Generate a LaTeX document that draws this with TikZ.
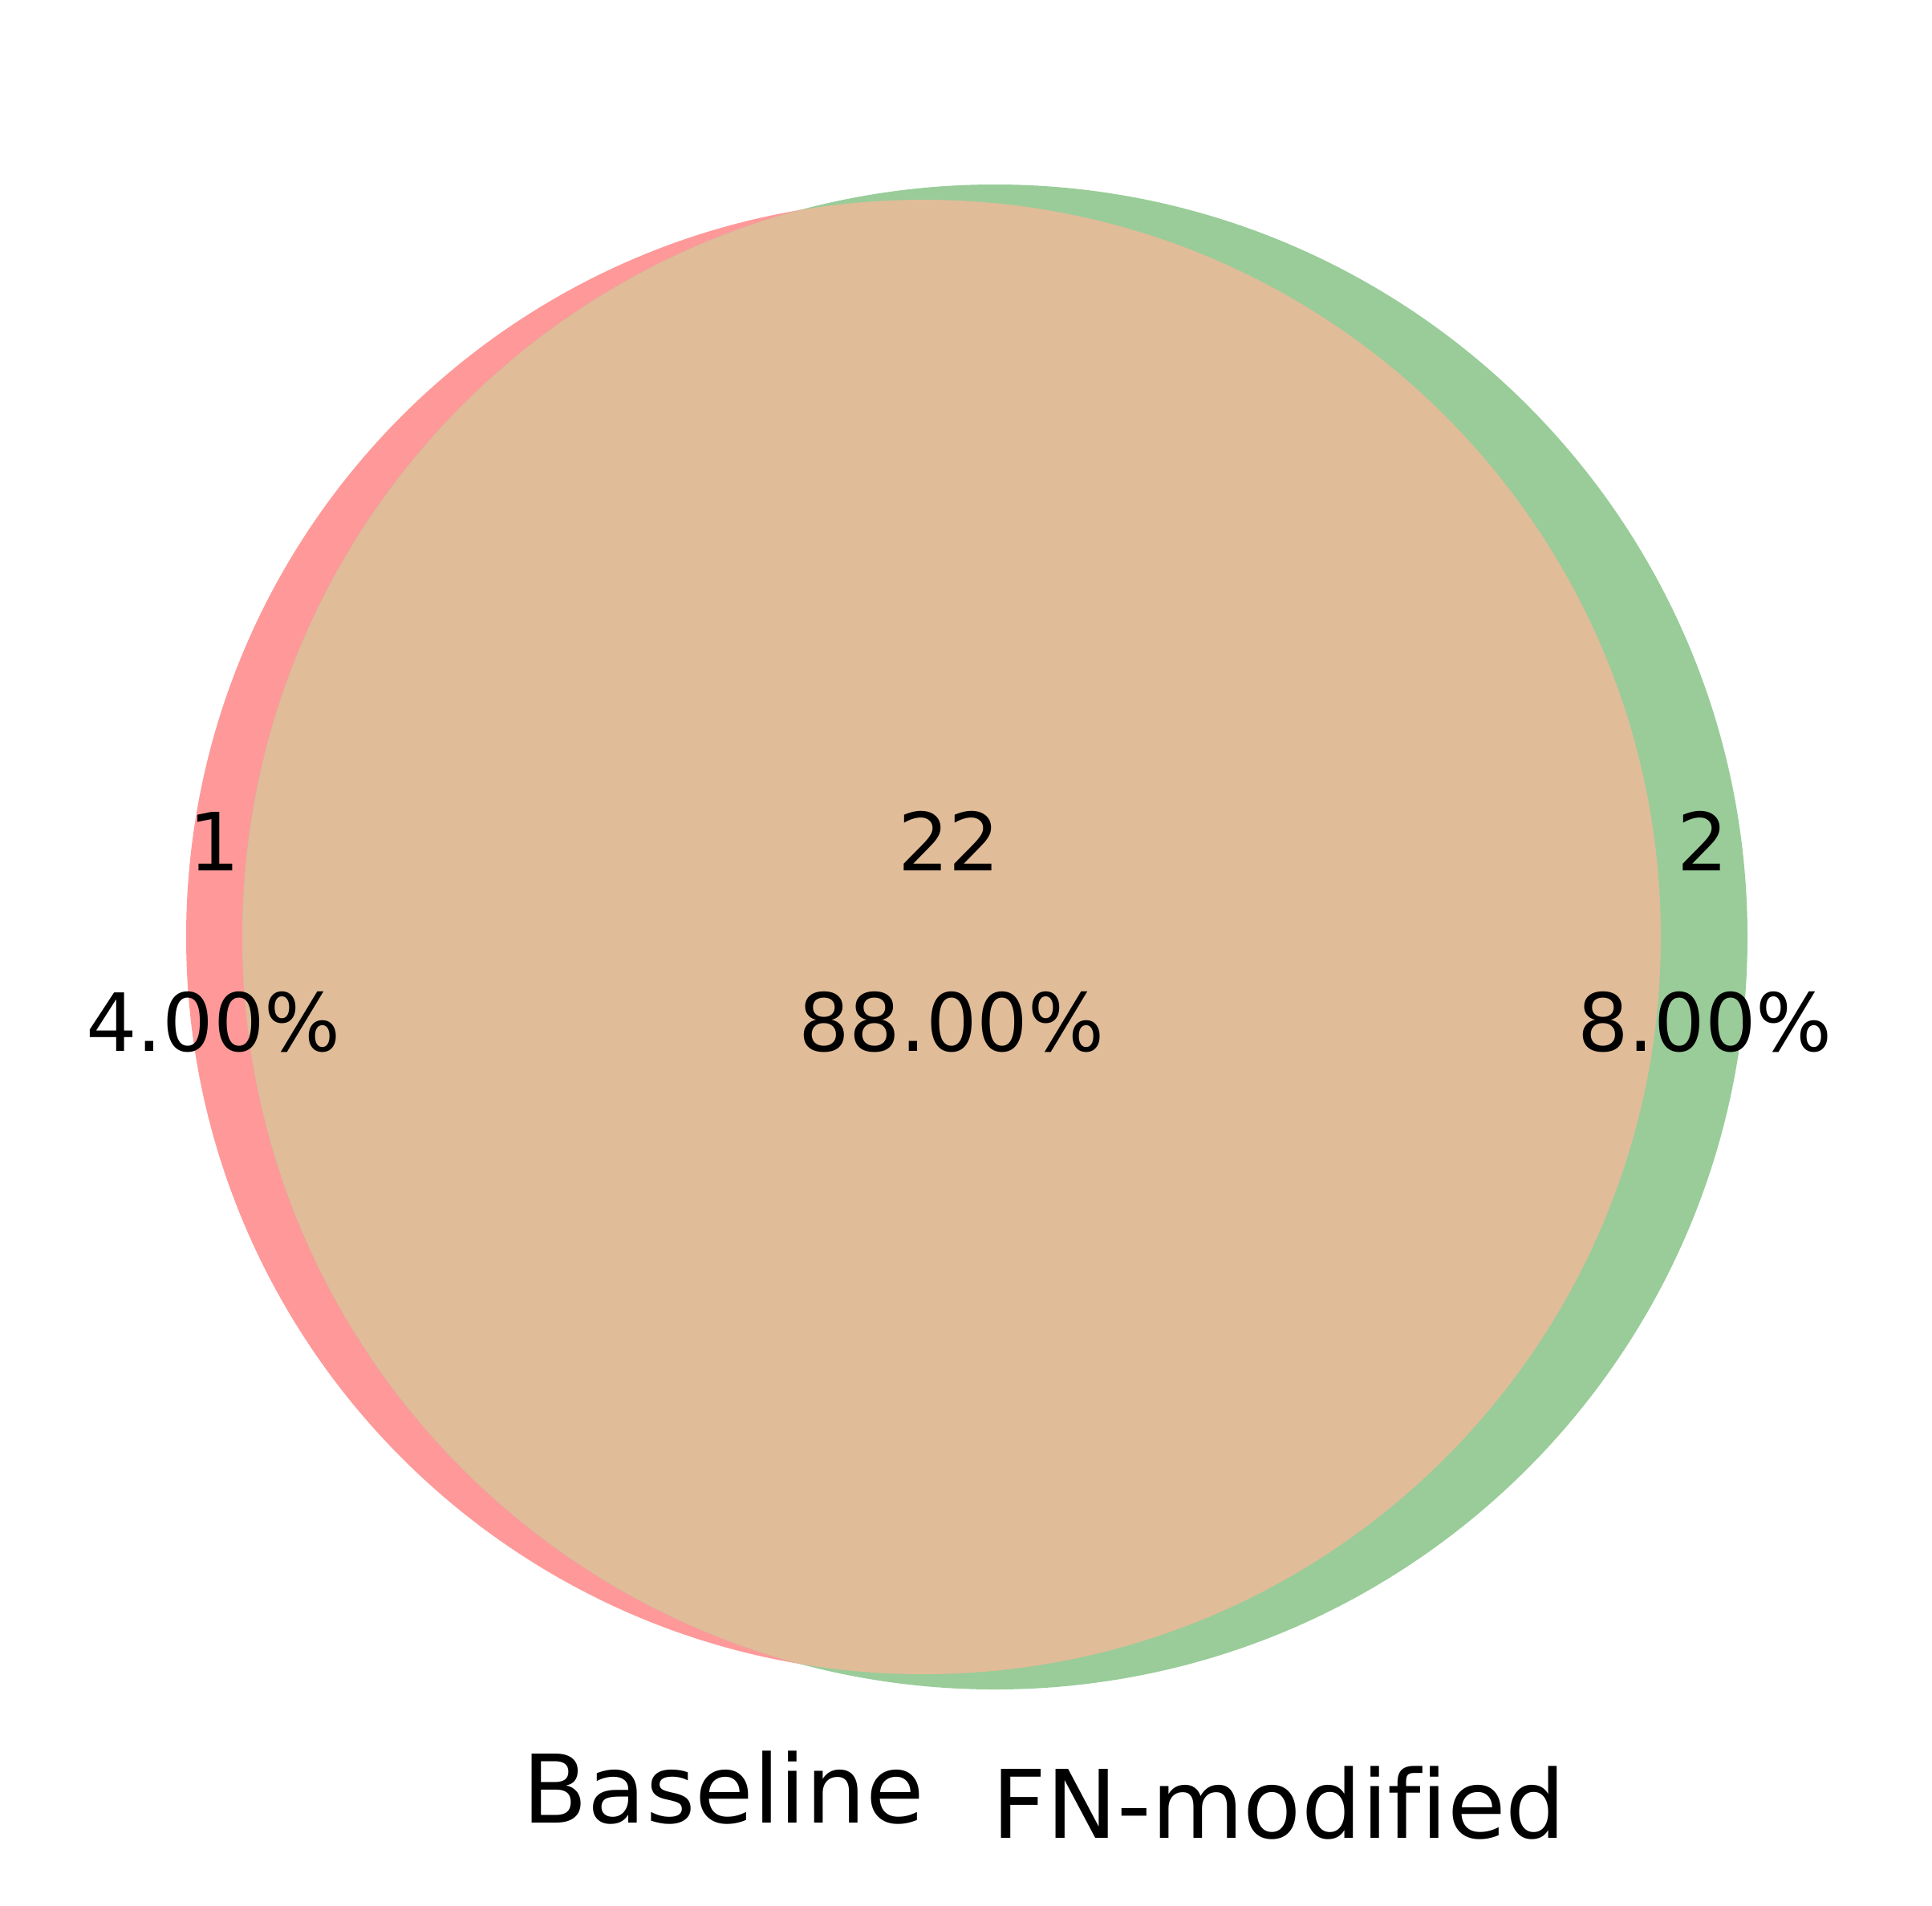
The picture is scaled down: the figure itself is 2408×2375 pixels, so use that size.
\documentclass[tikz,border=0pt]{standalone}
\usepackage{fontspec}
\setmainfont[Ligatures=CommonOff]{DejaVu Sans}
\definecolor{setA}{HTML}{FF9999}
\definecolor{setB}{HTML}{99CC99}
\definecolor{setAB}{HTML}{E0BC99}
\begin{document}
\begin{tikzpicture}[x=1pt,y=-1pt,
  num/.style={inner sep=0pt, anchor=base, font=\fontsize{100}{120}\selectfont},
  setlabel/.style={inner sep=0pt, anchor=base, font=\fontsize{118}{140}\selectfont}]
\useasboundingbox (0,0) rectangle (2408,2375);
\fill[white] (0,0) rectangle (2408,2375);
% circles
\coordinate (cA) at (1151,1168);
\coordinate (cB) at (1240,1168);
\fill[setA] (cA) circle[radius=919];
\fill[setB] (cB) circle[radius=938];
\begin{scope}
  \clip (cA) circle[radius=919];
  \fill[setAB] (cB) circle[radius=938];
\end{scope}
% region labels
\node[num] (n10) at (267,1085) {1};
\node[num] (p10) at (266,1310) {4.00\%};
\node[num] (n11) at (1183,1085) {22};
\node[num] (p11) at (1186,1310) {88.00\%};
\node[num] (n01) at (2122,1085) {2};
\node[num] (p01) at (2125,1310) {8.00\%};
% set labels
\node[setlabel] (lA) at (902,2272) {Baseline};
\node[setlabel] (lB) at (1594,2291) {FN-modif{}ied};
\end{tikzpicture}
\end{document}
